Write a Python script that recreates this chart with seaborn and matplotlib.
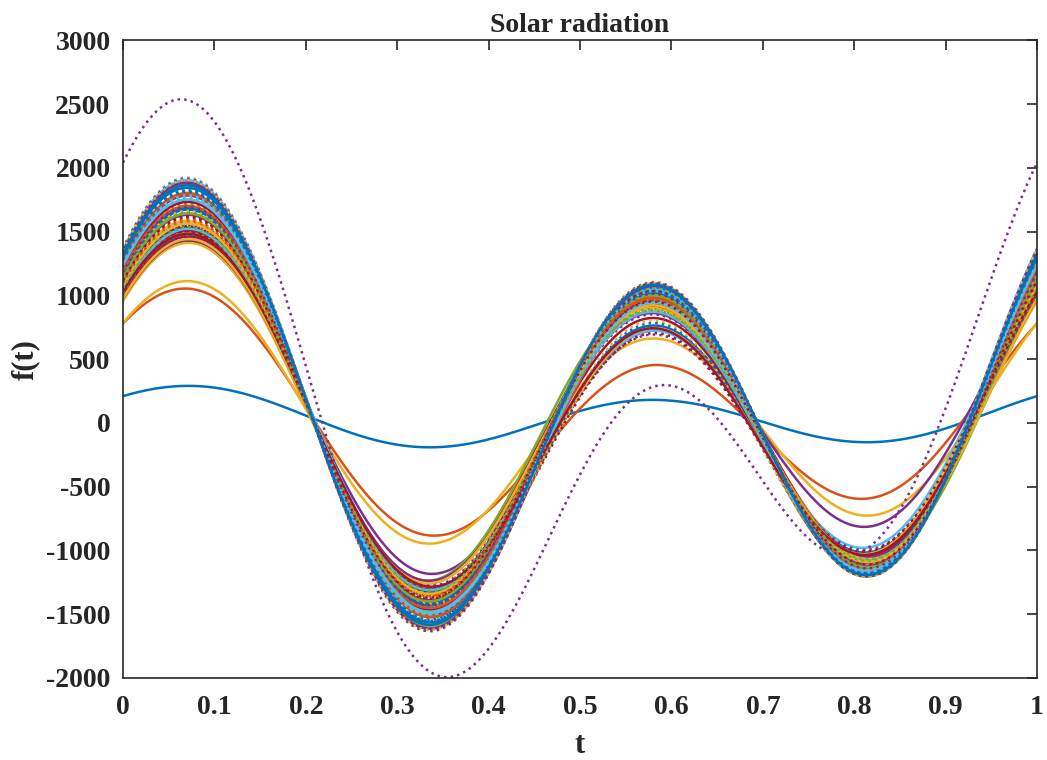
import numpy as np
import matplotlib
matplotlib.use('Agg')
import matplotlib.pyplot as plt
import seaborn as sns

# Extremes of each fitted curve
# (value near t=0.07, t=0.33, t=0.58, t=0.82)
first_peak = [290, 1050, 1110, 1420, 1480, 1560, 1460, 1700, 1620, 1750,
              2520, 1820, 1590, 1880, 1530, 1640, 1410, 1780, 1690, 1900,
              1500, 1850, 1720, 1610, 1450, 1760, 1920, 1550, 1670, 1800,
              1580, 1430, 1860, 1740, 1510, 1650, 1890, 1600, 1470, 1710,
              1830, 1540, 1680, 1790, 1440, 1630, 1870, 1520, 1730, 1810,
              1570, 1660, 1910, 1490, 1770, 1620, 1840, 1700, 1560, 1880,
              1640, 1750, 1480, 1820, 1590, 1900, 1690, 1530, 1780, 1610,
              1860]
first_trough = [-190, -870, -940, -1170, -1230, -1290, -1250, -1420, -1380, -1470,
                -1890, -1520, -1350, -1580, -1310, -1400, -1240, -1500, -1450, -1600,
                -1290, -1560, -1440, -1370, -1260, -1480, -1610, -1330, -1410, -1510,
                -1340, -1230, -1570, -1460, -1300, -1390, -1590, -1360, -1270, -1430,
                -1540, -1320, -1420, -1500, -1250, -1380, -1580, -1300, -1450, -1530,
                -1340, -1400, -1620, -1280, -1490, -1370, -1550, -1440, -1330, -1600,
                -1390, -1470, -1270, -1540, -1350, -1610, -1420, -1310, -1490, -1360,
                -1570]
second_peak = [180, 450, 660, 720, 980, 720, 930, 1010, 960, 1030,
               270, 1060, 900, 1090, 760, 980, 870, 1040, 940, 1060,
               820, 1070, 990, 910, 690, 1000, 1080, 880, 1020, 970,
               740, 860, 1050, 950, 910, 780, 1100, 990, 850, 960,
               1040, 700, 1010, 920, 900, 940, 1080, 870, 1030, 1000,
               930, 800, 1090, 890, 1050, 960, 1020, 980, 920, 1070,
               1000, 940, 740, 1060, 970, 1090, 1010, 880, 1030, 950,
               1080]
second_trough = [-150, -580, -720, -800, -1090, -960, -1050, -1120, -1100, -1150,
                 -920, -1170, -1080, -1185, -1000, -1120, -1040, -1160, -1110, -1180,
                 -1030, -1170, -1140, -1090, -980, -1150, -1190, -1070, -1130, -1160,
                 -1010, -1040, -1180, -1130, -1060, -1080, -1190, -1100, -1050, -1130,
                 -1170, -990, -1120, -1150, -1060, -1110, -1190, -1070, -1140, -1160,
                 -1090, -1100, -1190, -1060, -1150, -1100, -1170, -1130, -1080, -1180,
                 -1120, -1140, -1020, -1170, -1100, -1190, -1130, -1070, -1160, -1100,
                 -1180]

matlab_colors = ['#0072BD', '#D95319', '#EDB120', '#7E2F8E',
                 '#77AC30', '#4DBEEE', '#A2142F']

sns.set_theme(style='white')
plt.rcParams['font.family'] = ['Liberation Serif', 'DejaVu Serif']
plt.rcParams['font.weight'] = 'bold'
plt.rcParams['axes.unicode_minus'] = False

t = np.linspace(0, 1, 401)
u = t - 0.075

fig = plt.figure(figsize=(10.47, 7.6), dpi=100)
ax = fig.add_axes([0.1175, 0.108, 0.873, 0.839])

for i in range(len(first_peak)):
    p1, tr1 = first_peak[i], first_trough[i]
    p2, tr2 = second_peak[i], second_trough[i]
    hi = (p1 + p2) / 2
    lo = (tr1 + tr2) / 2
    semi = (hi - lo) / 2
    mean = (hi + lo) / 2
    ac = (p1 - p2) / 2
    asn = (tr2 - tr1) / 2
    f = (mean + semi * np.cos(4 * np.pi * u)
         + ac * np.cos(2 * np.pi * u) - asn * np.sin(2 * np.pi * u))
    style = '-' if (i // 7) % 2 == 0 else ':'
    sns.lineplot(x=t, y=f, ax=ax, color=matlab_colors[i % 7],
                 linestyle=style, linewidth=1.8)

ax.set_xlim(0, 1)
ax.set_ylim(-2000, 3000)
ax.set_xticks(np.arange(0, 1.01, 0.1))
ax.set_xticklabels(['0', '0.1', '0.2', '0.3', '0.4', '0.5', '0.6', '0.7', '0.8', '0.9', '1'])
ax.set_yticks(np.arange(-2000, 3001, 500))
ax.tick_params(direction='in', length=7.5, width=1.2, top=True, right=True,
               labelsize=20, colors='#262626')
ax.tick_params(axis='x', pad=12)
ax.tick_params(axis='y', pad=9)
for lab in ax.get_xticklabels() + ax.get_yticklabels():
    lab.set_fontweight('bold')
for sp in ax.spines.values():
    sp.set_color('#262626')
    sp.set_linewidth(1.2)

ax.set_title('Solar radiation', fontsize=20, fontweight='bold', pad=6)
ax.set_xlabel('t', fontsize=22, fontweight='bold', labelpad=8)
ax.set_ylabel('f(t)', fontsize=22, fontweight='bold', labelpad=4)

fig.savefig('out.png', dpi=100)
